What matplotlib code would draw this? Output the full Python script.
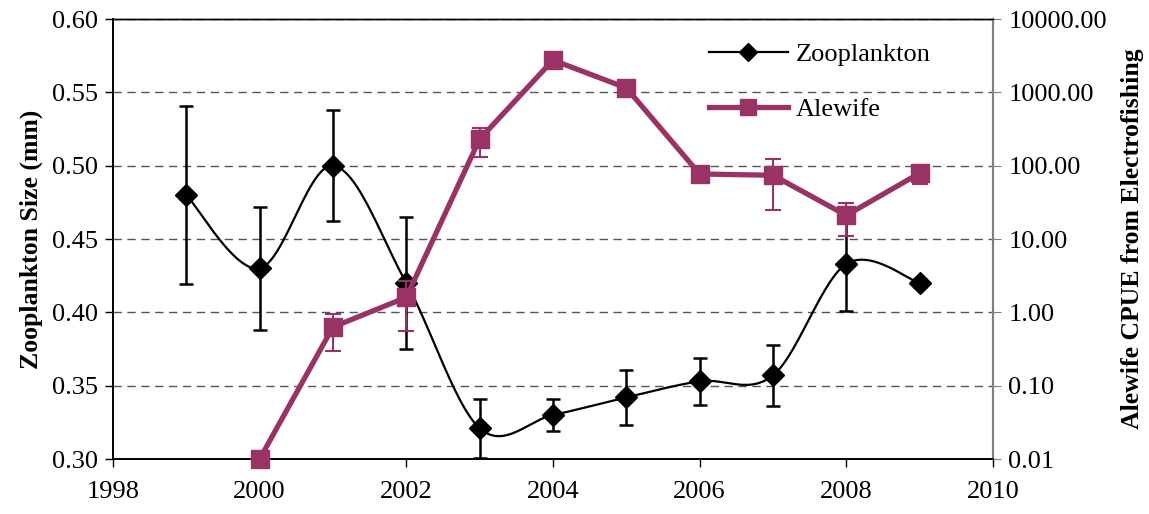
import numpy as np
import matplotlib.pyplot as plt

plt.rcParams['font.family'] = ['Liberation Serif', 'DejaVu Serif']

# zooplankton mean size (mm) and error
zoo_years = [1999, 2000, 2001, 2002, 2003, 2004, 2005, 2006, 2007, 2008, 2009]
zoo_size = [0.480, 0.430, 0.500, 0.420, 0.321, 0.330, 0.342, 0.353, 0.357, 0.433, 0.420]
zoo_err = [0.061, 0.042, 0.038, 0.045, 0.020, 0.011, 0.019, 0.016, 0.021, 0.032, 0.003]

# alewife CPUE (log scale) and error
ale_years = [2000, 2001, 2002, 2003, 2004, 2005, 2006, 2007, 2008, 2009]
ale_cpue = [0.01, 0.63, 1.6, 230, 2750, 1150, 77, 74, 21, 79]
ale_err = [0.0, 0.33, 1.05, 100, 0.0, 0.0, 0.0, 49, 10, 22]

purple = '#993366'


def smooth(x, y, n=30):
    # Catmull-Rom style smoothing, like a spreadsheet "smoothed line"
    x = np.asarray(x, float)
    y = np.asarray(y, float)
    px = np.concatenate([[x[0]], x, [x[-1]]])
    py = np.concatenate([[y[0]], y, [y[-1]]])
    xs, ys = [], []
    t = np.linspace(0, 1, n)
    for i in range(1, len(px) - 2):
        p0, p1, p2, p3 = px[i-1], px[i], px[i+1], px[i+2]
        q0, q1, q2, q3 = py[i-1], py[i], py[i+1], py[i+2]
        c1x = p1 + (p2 - p0) / 6
        c2x = p2 - (p3 - p1) / 6
        c1y = q1 + (q2 - q0) / 6
        c2y = q2 - (q3 - q1) / 6
        bx = (1-t)**3*p1 + 3*(1-t)**2*t*c1x + 3*(1-t)*t**2*c2x + t**3*p2
        by = (1-t)**3*q1 + 3*(1-t)**2*t*c1y + 3*(1-t)*t**2*c2y + t**3*q2
        xs.extend(bx)
        ys.extend(by)
    return np.array(xs), np.array(ys)


fig = plt.figure(figsize=(11.49, 5.14), dpi=100)
ax1 = fig.add_axes([0.0983, 0.107, 0.7659, 0.856])
ax2 = ax1.twinx()

# zooplankton on the left axis
sx, sy = smooth(zoo_years, zoo_size)
ax1.plot(sx, sy, color='black', lw=1.6, zorder=3)
ax1.errorbar(zoo_years, zoo_size, yerr=zoo_err, fmt='none', ecolor='black',
             elinewidth=1.8, capsize=5, capthick=1.8, zorder=3)
ax1.plot(zoo_years, zoo_size, 'D', color='black', ms=11, zorder=4)

ax1.set_xlim(1998, 2010)
ax1.set_ylim(0.30, 0.60)
ax1.set_xticks(range(1998, 2011, 2))
ax1.set_yticks(np.arange(0.30, 0.601, 0.05))
ax1.set_yticklabels(['%.2f' % v for v in np.arange(0.30, 0.601, 0.05)])
ax1.yaxis.grid(True, ls=(0, (6, 4)), color='#555555', lw=1.0)
ax1.set_axisbelow(True)
ax1.tick_params(axis='both', direction='out', length=6, labelsize=19, width=1.0)
ax1.tick_params(axis='x', pad=10)
ax1.tick_params(axis='y', pad=5)
ax1.set_ylabel('Zooplankton Size (mm)', fontsize=18.5, fontweight='bold', labelpad=6)

# alewife on the right log axis
lower = [min(e, v * 0.99) for v, e in zip(ale_cpue, ale_err)]
ax2.errorbar(ale_years, ale_cpue, yerr=[lower, ale_err], fmt='none', ecolor=purple,
             elinewidth=1.5, capsize=6, capthick=1.5, zorder=3)
ax2.plot(ale_years, ale_cpue, '-s', color=purple, lw=3.8, ms=13, zorder=4, clip_on=False)
ax2.set_yscale('log')
ax2.set_ylim(0.01, 10000)
ax2.set_yticks([0.01, 0.1, 1, 10, 100, 1000, 10000])
ax2.set_yticklabels(['0.01', '0.10', '1.00', '10.00', '100.00', '1000.00', '10000.00'])
ax2.minorticks_off()
ax2.tick_params(axis='y', direction='out', length=6, labelsize=19, colors='black', pad=5)
ax2.tick_params(axis='y', color='#808080')
ax2.set_ylabel('Alewife CPUE from Electrofishing', fontsize=18.5, fontweight='bold', labelpad=10)

for a in (ax1, ax2):
    a.spines['right'].set_color('#808080')
    a.spines['right'].set_linewidth(1.5)
    a.spines['left'].set_linewidth(1.2)
    a.spines['bottom'].set_linewidth(1.2)
    a.spines['top'].set_linewidth(1.0)

# legend
h1 = plt.Line2D([], [], color='black', lw=1.6, marker='D', ms=9)
h2 = plt.Line2D([], [], color=purple, lw=3.8, marker='s', ms=12)
ax2.legend([h1, h2], ['Zooplankton', 'Alewife'], loc='upper left',
           bbox_to_anchor=(0.665, 0.97), frameon=False, fontsize=19,
           handlelength=3.0, handletextpad=0.3, labelspacing=1.2, borderaxespad=0)

fig.savefig('out.png', dpi=100)
